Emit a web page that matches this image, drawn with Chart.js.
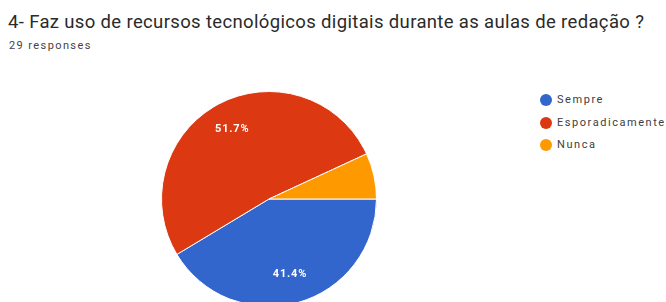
<!DOCTYPE html>
<html>
<head>
<meta charset="utf-8">
<script src="https://cdn.jsdelivr.net/npm/chart.js@4.4.0/dist/chart.umd.min.js"></script>
<style>
  html, body { margin: 0; padding: 0; background: #fff; }
  body { width: 666px; height: 302px; overflow: hidden; position: relative; font-family: Roboto, "Noto Sans", sans-serif; }
  #title { position: absolute; left: 8px; top: 11px; font-size: 18.5px; line-height: 22px; color: #2a2a2a; white-space: nowrap; letter-spacing: 0.35px; }
  #sub { position: absolute; left: 9px; top: 39px; font-size: 11px; line-height: 13px; color: #444; letter-spacing: 1.4px; }
  #pieBox { position: absolute; left: 161px; top: 91px; width: 216px; height: 216px; }
  #legend { position: absolute; left: 540px; top: 92px; font-size: 11px; color: #3c4043; }
  .row { position: relative; height: 22.5px; line-height: 16px; white-space: nowrap; padding-left: 17px; letter-spacing: 1.55px; }
  .dot { position: absolute; left: 0; top: 2px; width: 12px; height: 12px; border-radius: 50%; }
</style>
</head>
<body>
<div id="title">4- Faz uso de recursos tecnológicos digitais durante as aulas de redação ?</div>
<div id="sub">29 responses</div>
<div id="pieBox"><canvas id="pie"></canvas></div>
<div id="legend"></div>
<script>
// answers, in the order the form lists them
const labels = ['Sempre', 'Esporadicamente', 'Nunca'];
const counts = [12, 15, 2];
const colors = ['#3366cc', '#dc3912', '#ff9900'];

const total = counts.reduce(function(a, b) { return a + b; }, 0);

// legend as plain html, built from the same arrays
const legendEl = document.getElementById('legend');
labels.forEach(function(name, i) {
  const row = document.createElement('div');
  row.className = 'row';
  row.innerHTML = '<span class="dot" style="background:' + colors[i] + '"></span>' + name;
  legendEl.appendChild(row);
});

// percentage text inside the slices, skipping the thin ones
const sliceLabels = {
  id: 'sliceLabels',
  afterDatasetsDraw: function(chart) {
    const ctx = chart.ctx;
    const meta = chart.getDatasetMeta(0);
    ctx.save();
    ctx.fillStyle = '#fff';
    ctx.font = 'bold 11px Roboto, sans-serif';
    ctx.letterSpacing = '0.8px';
    ctx.textAlign = 'center';
    ctx.textBaseline = 'middle';
    meta.data.forEach(function(arc, i) {
      const pct = counts[i] / total * 100;
      if (pct < 10) return;
      const mid = (arc.startAngle + arc.endAngle) / 2;
      const r = arc.outerRadius * 0.73;
      ctx.fillText(pct.toFixed(1) + '%', arc.x + Math.cos(mid) * r, arc.y + Math.sin(mid) * r);
    });
    ctx.restore();
  }
};

new Chart(document.getElementById('pie'), {
  type: 'pie',
  data: {
    labels: labels,
    datasets: [{
      data: counts,
      backgroundColor: colors,
      borderColor: '#fff',
      borderWidth: 1
    }]
  },
  options: {
    responsive: true,
    maintainAspectRatio: false,
    animation: false,
    rotation: 90,
    layout: { padding: 0 },
    plugins: {
      legend: { display: false },
      tooltip: { enabled: false }
    }
  },
  plugins: [sliceLabels]
});
</script>
</body>
</html>
